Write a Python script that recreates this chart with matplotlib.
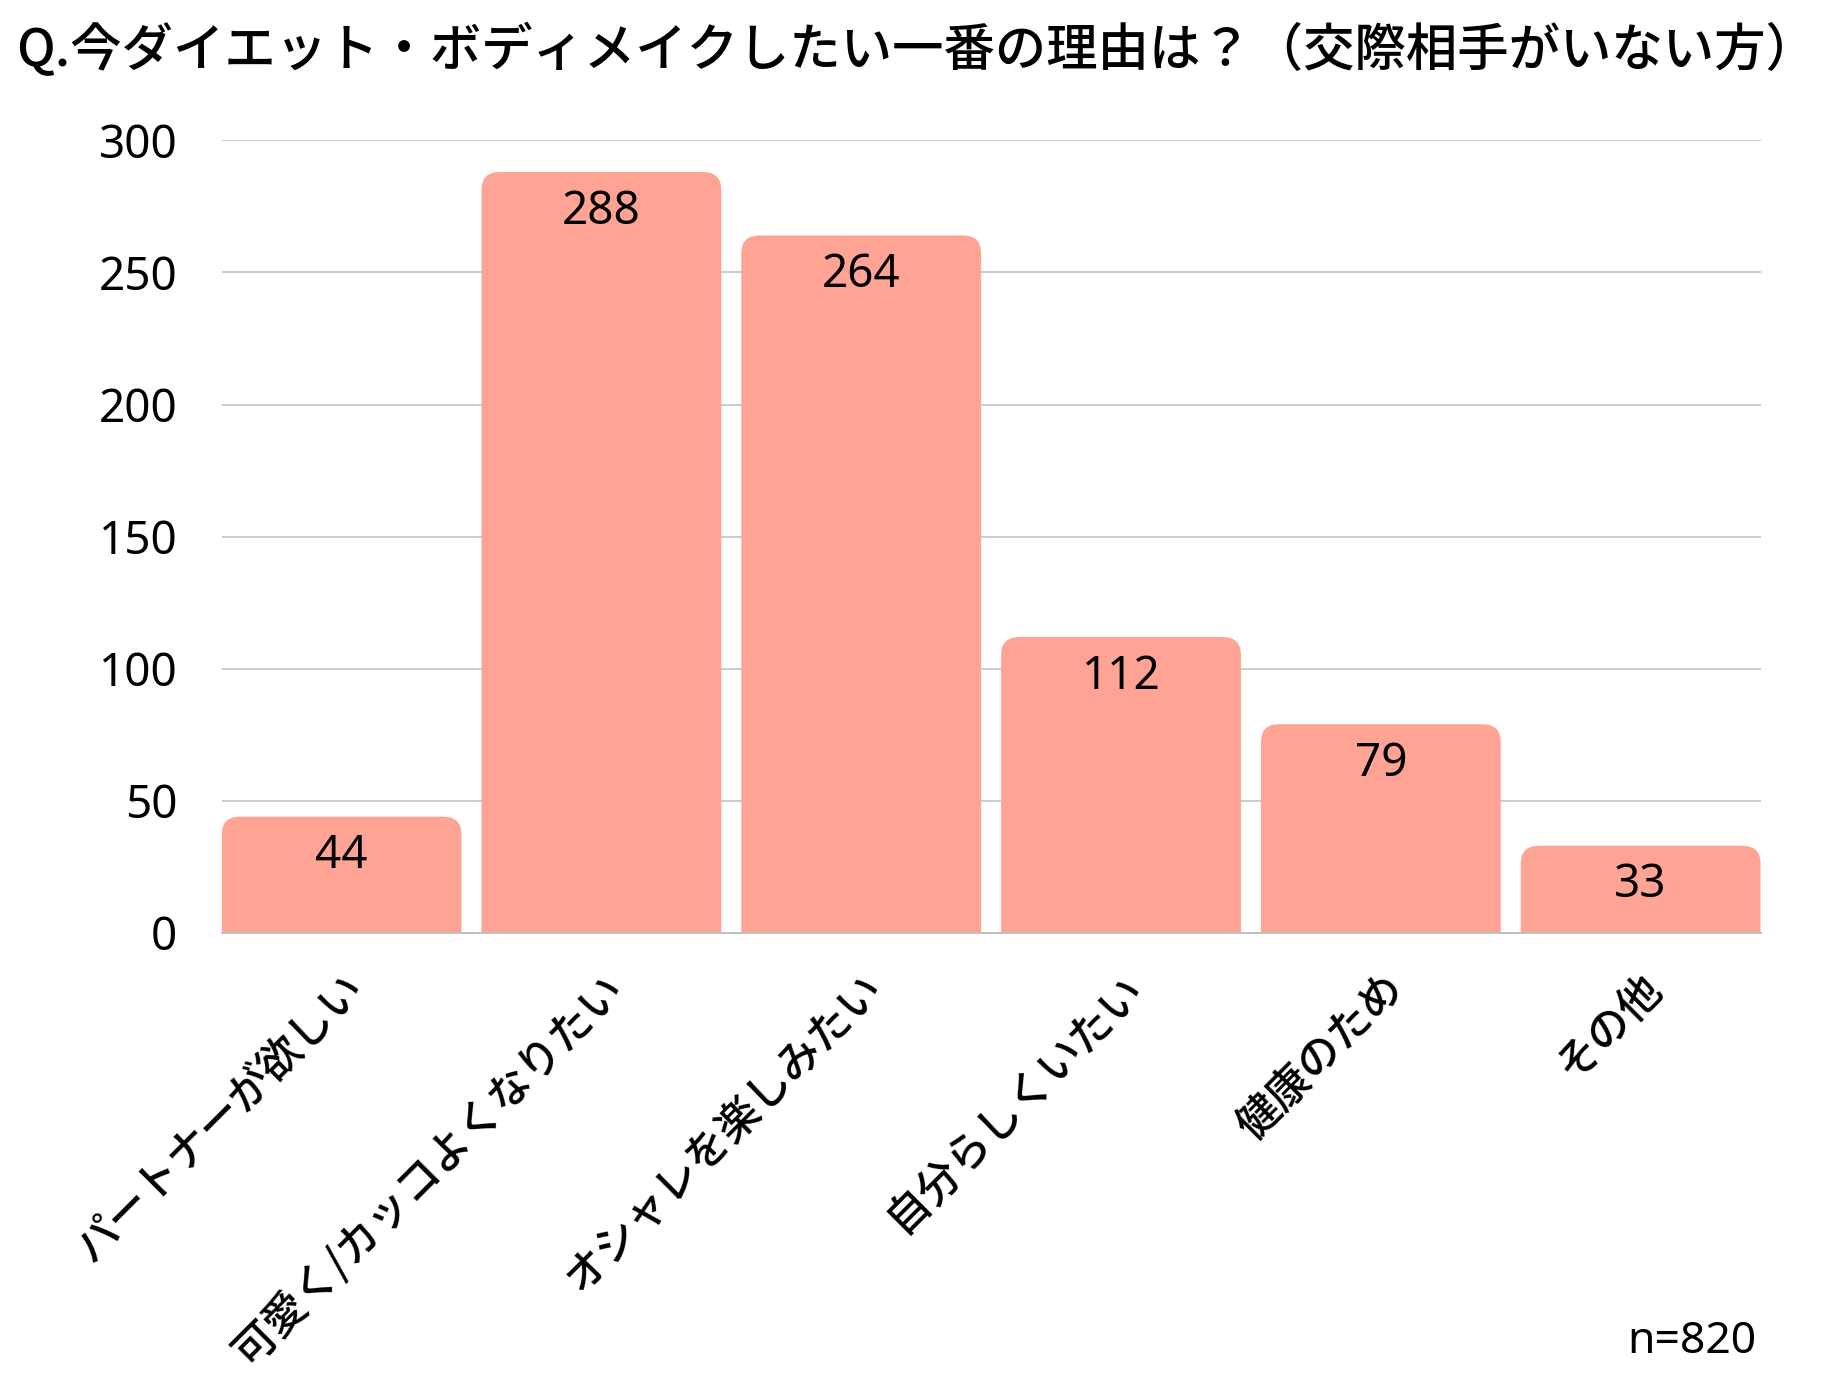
import matplotlib.pyplot as plt
from matplotlib.patches import FancyBboxPatch

plt.rcParams['font.family'] = ['Noto Sans CJK JP', 'DejaVu Sans']

title = "Q.今ダイエット・ボディメイクしたい一番の理由は？（交際相手がいない方）"
categories = ["パートナーが欲しい", "可愛く/カッコよくなりたい", "オシャレを楽しみたい",
              "自分らしくいたい", "健康のため", "その他"]
values = [44, 288, 264, 112, 79, 33]
yticks = [0, 50, 100, 150, 200, 250, 300]
n_label = "n=820"

bar_color = '#FFA494'
num_font = ['Noto Sans', 'DejaVu Sans']

fig = plt.figure(figsize=(18.32, 13.76), dpi=100)
ax = fig.add_axes([0.121, 0.322, 0.840, 0.576])
width = 0.923
ax.set_xlim(-width / 2, len(values) - 1 + width / 2)
ax.set_ylim(0, 300)

# 角丸の棒（下側は軸で切る）
fig.canvas.draw()
bb = ax.get_window_extent()
px_x = bb.width / (len(values) - 1 + width)
px_y = bb.height / 300
aspect = px_x / px_y
r = 18 / px_x
for i, v in enumerate(values):
    p = FancyBboxPatch((i - width / 2, -30), width, v + 30,
                       boxstyle=f"round,pad=0,rounding_size={r}",
                       mutation_aspect=aspect, fc=bar_color, ec='none',
                       zorder=2, clip_on=True)
    ax.add_patch(p)
    ax.text(i, v - 15, str(v), ha='center', va='center', fontsize=33,
            family=num_font, zorder=3)

ax.set_yticks(yticks)
ax.set_yticklabels([str(t) for t in yticks], fontsize=33, family=num_font)
ax.grid(axis='y', color='#c8c8c8', linewidth=1.3, zorder=0)
ax.tick_params(axis='y', length=0, pad=32)
ax.tick_params(axis='x', length=0, pad=24)
for s in ['top', 'right', 'left']:
    ax.spines[s].set_visible(False)
ax.spines['bottom'].set_color('#bdbdbd')
ax.spines['bottom'].set_linewidth(1.3)

ax.set_xticks(range(len(categories)))
ax.set_xticklabels(categories, rotation=45, ha='right', rotation_mode='anchor',
                   fontsize=31, fontweight='medium')

fig.text(0.009, 0.964, title, fontsize=37, fontweight='medium', va='center', ha='left')
fig.text(0.9585, 0.025, n_label, fontsize=32, ha='right', va='center',
         family=num_font)

fig.savefig('out.png', dpi=100, facecolor='white')
